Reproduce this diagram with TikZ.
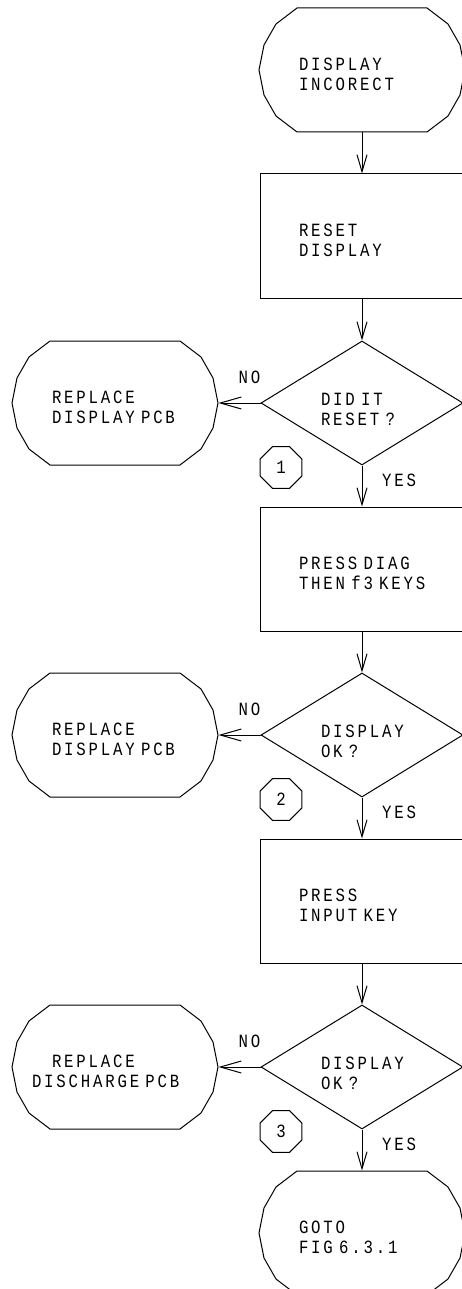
\documentclass[tikz,border=0pt]{standalone}
\usepackage{fontspec}
\newfontfamily\cadfont[FakeStretch=0.84, LetterSpace=15]{Liberation Mono}
\protected\def\cadsize{\fontsize{18.7}{20}\selectfont\fontdimen2\font=12.2pt\fontdimen3\font=0pt\fontdimen4\font=0pt\relax}
\usetikzlibrary{arrows.meta, positioning, shapes.geometric, calc}
\tikzset{
  every picture/.style={line width=1pt},
  txt/.style={font=\cadfont\cadsize},
  term/.style={txt, minimum width=206pt, minimum height=124pt, text width=126pt, text height=22pt, align=left, inner sep=0pt},
  stepbox/.style={txt, draw, minimum width=204pt, minimum height=124pt, text width=126pt, text height=22pt, align=left, inner sep=0pt},
  decision/.style={txt, draw, diamond, aspect=1.63, minimum width=202pt, minimum height=124pt, text width=82pt, text height=26pt, align=left, inner sep=0pt},
  marker/.style={txt, draw, regular polygon, regular polygon sides=8, minimum size=45pt, inner sep=0pt},
  lbl/.style={txt},
  arrow/.style={-{Straight Barb[length=17pt, width=10pt]}},
  noarrow/.style={-{Straight Barb[length=21pt, width=12pt]}},
}

\begin{document}
\begin{tikzpicture}[x=1pt, y=1pt]
  \useasboundingbox (0,0) rectangle (461,-1289);
  % main column
  \node[term] (start) at (362,-70) {DISPLAY\\INCORECT};
  \node[stepbox, below=41pt of start] (reset) {RESET\\DISPLAY};
  \node[decision, below=42pt of reset] (dec1) {DID~IT\\RESET~?};
  \node[stepbox, below=41pt of dec1] (diag) {PRESS~DIAG\\THEN~f3~KEYS};
  \node[decision, below=41pt of diag] (dec2) {DISPLAY\\OK~?};
  \node[stepbox, below=41pt of dec2] (input) {PRESS\\INPUT~KEY};
  \node[decision, below=41pt of input] (dec3) {DISPLAY\\OK~?};
  \node[term, below=41pt of dec3] (goto) {GOTO\\FIG~6.3.1};
  % replace branches
  \node[term, left=42pt of dec1] (rep1) {REPLACE\\DISPLAY~PCB};
  \node[term, left=42pt of dec2] (rep2) {REPLACE\\DISPLAY~PCB};
  \node[term, left=42pt of dec3, text width=166pt] (rep3) {\hspace{20pt}REPLACE\\DISCHARGE~PCB};
  % terminator outlines
  \foreach \n in {start, rep1, rep2, rep3, goto}
    \draw[shift={(\n.center)}] (-65,62) -- (65,62) -- (86,46) -- (98,25) -- (103,0) -- (98,-25) -- (86,-46) -- (65,-62)
      -- (-65,-62) -- (-86,-46) -- (-98,-25) -- (-103,0) -- (-98,25) -- (-86,46) -- cycle;
  % connectors
  \draw[arrow] (start) -- (reset);
  \draw[arrow] (reset) -- (dec1);
  \draw[arrow] (dec1) -- (diag);
  \draw[arrow] (diag) -- (dec2);
  \draw[arrow] (dec2) -- (input);
  \draw[arrow] (input) -- (dec3);
  \draw[arrow] (dec3) -- (goto);
  \foreach \i in {1,2,3} {
    \draw[noarrow] (dec\i) -- (rep\i);
    \node[lbl] (no\i) at ($(dec\i.west)+(-11,26)$) {NO};
    \node[lbl] (yes\i) at ($(dec\i.south)+(37,-15)$) {YES};
    \node[marker] (num\i) at ($(dec\i.south)+(-81,-2)$) {\i};
  }
\end{tikzpicture}
\end{document}
